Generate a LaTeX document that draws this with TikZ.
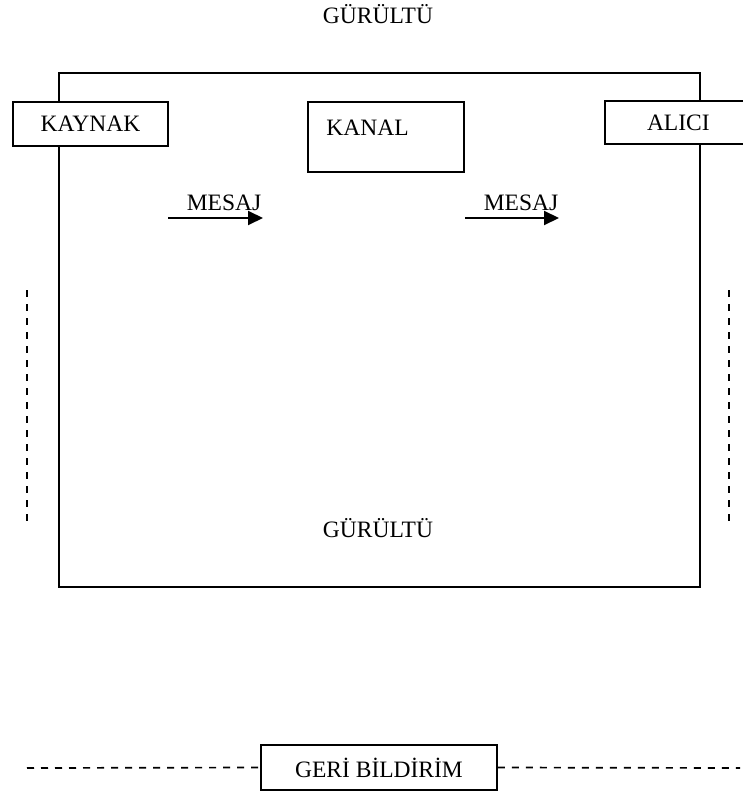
\documentclass[tikz,border=0pt]{standalone}
\usepackage{fontspec}
\setmainfont{Liberation Serif}
\usetikzlibrary{arrows.meta}
\begin{document}
\begin{tikzpicture}[x=1pt,y=-1pt,
  txt/.style={font=\fontsize{23.5}{27}\selectfont, inner sep=0pt},
  box/.style={draw, line width=1.5pt, font=\fontsize{23.5}{27}\selectfont, inner sep=0pt},
  msg/.style={line width=2pt, -{Triangle[length=15pt,width=14pt]}},
  dsh/.style={line width=1.7pt, dash pattern=on 7pt off 7pt}]
\useasboundingbox (0,0) rectangle (743,794);
\clip (0,0) rectangle (743,794);
% outer frame
\node[draw, line width=1.6pt, minimum width=641pt, minimum height=514pt, inner sep=0pt] (frame) at (379.5,330) {};
% top and bottom noise labels
\node[txt] (noiseTop) at (378,14) {GÜRÜLTÜ};
\node[txt] (noiseBot) at (378,528) {GÜRÜLTÜ};
% boxes
\node[box, fill=white, minimum width=155pt, minimum height=44pt] (kaynak) at (90.5,124) {KAYNAK};
\node[box, fill=white, minimum width=156pt, minimum height=70pt,
  label={[txt, anchor=west, xshift=19pt, yshift=9pt]west:KANAL}] (kanal) at (386,137) {};
\node[box, fill=white, minimum width=150pt, minimum height=43pt, text width=150pt, align=left] (alici) at (680,122.5) {\hspace*{42pt}ALICI};
% messages
\coordinate (m1s) at (168,218);
\coordinate (m1e) at (263,218);
\coordinate (m2s) at (465,218);
\coordinate (m2e) at (559,218);
\node[txt] (mesaj1) at (224,203) {MESAJ};
\node[txt] (mesaj2) at (521,203) {MESAJ};
\draw[msg] (m1s) -- (m1e);
\draw[msg] (m2s) -- (m2e);
% vertical dashed lines
\coordinate (vl1) at (27,290);
\coordinate (vl2) at (27,523);
\coordinate (vr1) at (729,290);
\coordinate (vr2) at (729,523);
\draw[dsh] (vl1) -- (vl2);
\draw[dsh] (vr1) -- (vr2);
% feedback
\node[box, minimum width=236pt, minimum height=45pt] (geri) at (379,767.5) {GERİ BİLDİRİM};
\coordinate (fl) at (27,768);
\coordinate (fr) at (740,768);
\draw[dsh] (fl) -- (geri.west);
\draw[dsh] (geri.east) -- (fr);
\end{tikzpicture}
\end{document}
